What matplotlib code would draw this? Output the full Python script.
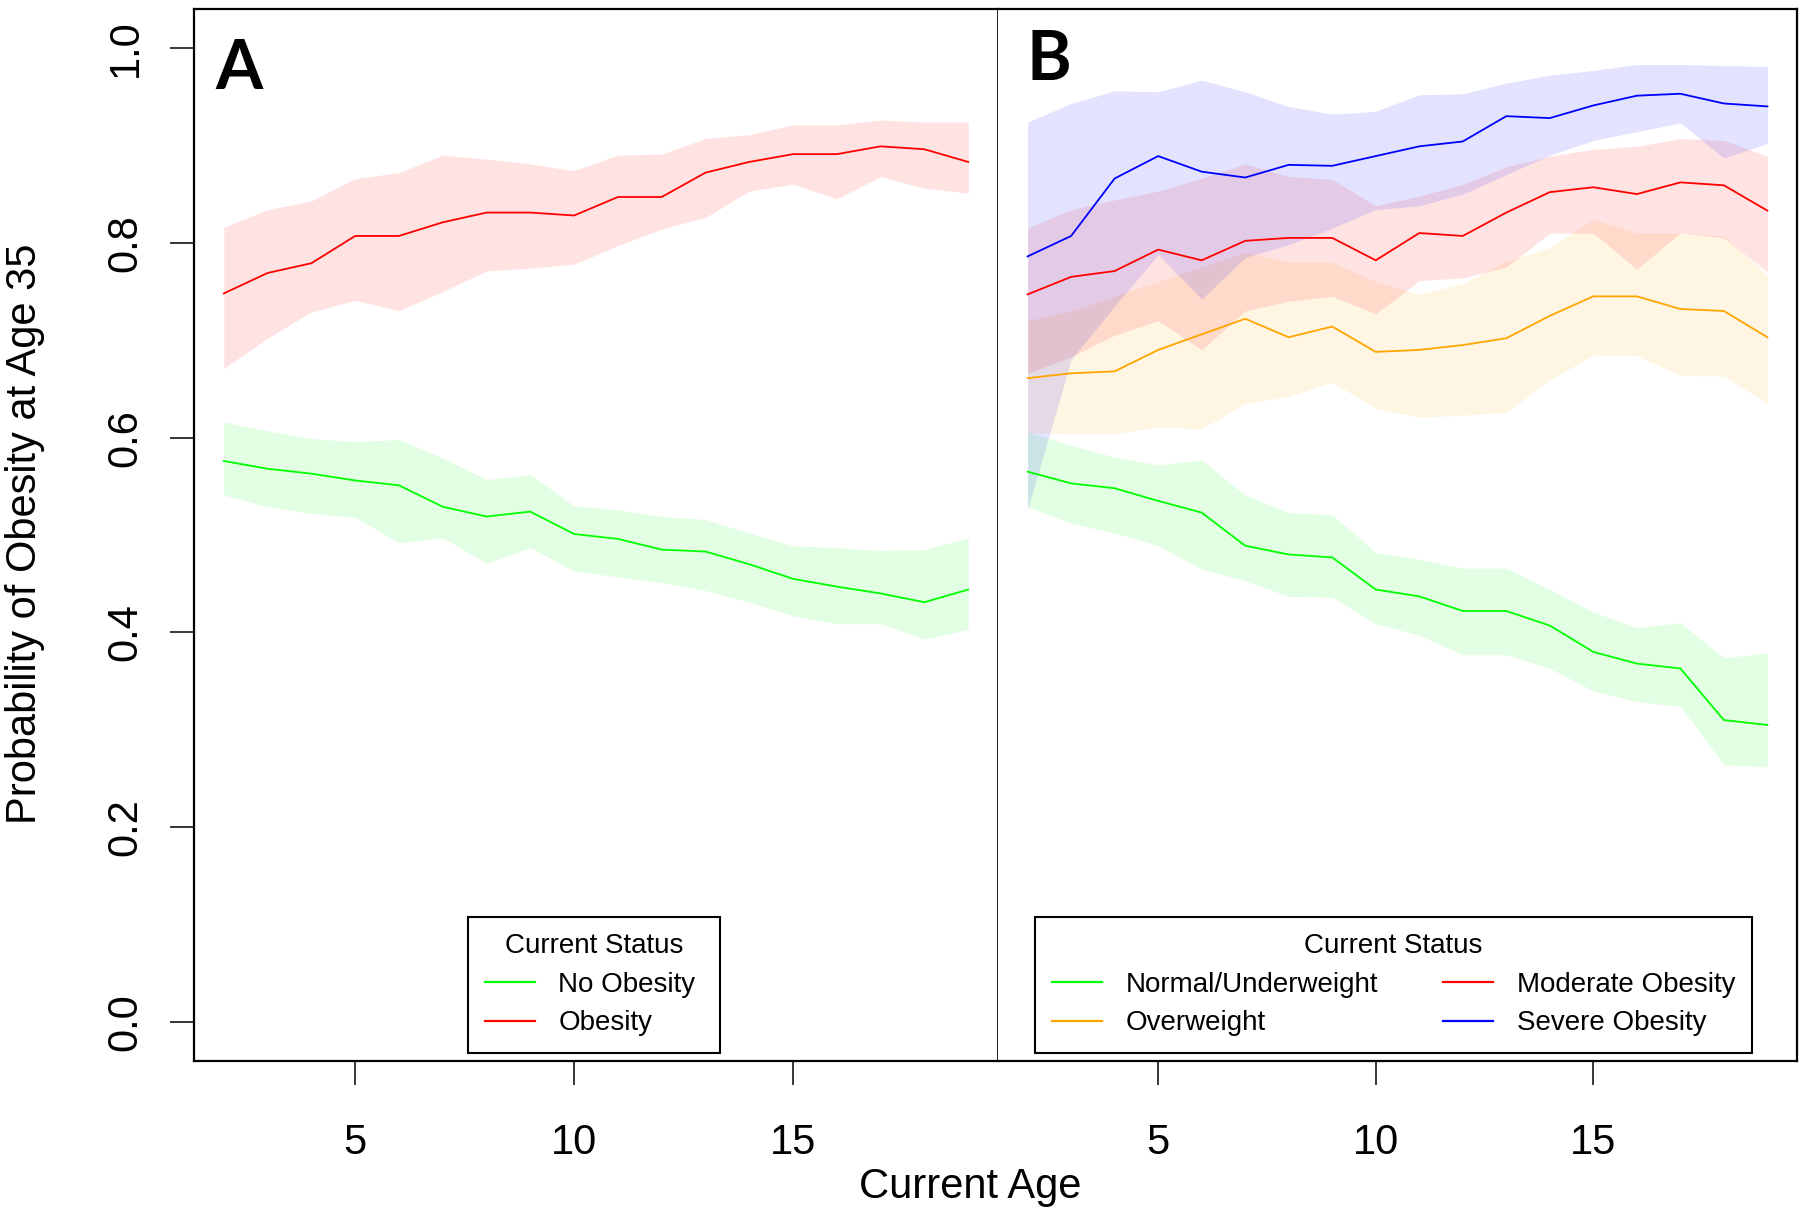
import matplotlib
matplotlib.use("Agg")
import matplotlib.pyplot as plt
import matplotlib.transforms as mtransforms
from matplotlib import font_manager
from matplotlib.lines import Line2D

# R-style output uses a narrow Arial look; use the narrow Liberation face if present
installed = {f.name for f in font_manager.fontManager.ttflist}
narrow = "Liberation Sans Narrow" in installed
base_font = "Liberation Sans Narrow" if narrow else "Liberation Sans"
plt.rcParams['font.family'] = [base_font, 'DejaVu Sans']
# text sizes (smaller when only the normal-width face is available)
tick_size = 34 if narrow else 30
label_size = 35 if narrow else 30
legend_size = 24 if narrow else 20

ages = list(range(2, 20))

# ---------- Panel A: two groups ----------
a_ob_mean = [0.748, 0.769, 0.779, 0.807, 0.807, 0.821, 0.831, 0.831, 0.828,
             0.847, 0.847, 0.872, 0.883, 0.891, 0.891, 0.899, 0.896, 0.883]
a_ob_hi = [0.816, 0.834, 0.843, 0.866, 0.872, 0.890, 0.886, 0.881, 0.874,
           0.890, 0.891, 0.907, 0.911, 0.921, 0.921, 0.926, 0.924, 0.924]
a_ob_lo = [0.671, 0.702, 0.729, 0.741, 0.730, 0.750, 0.771, 0.774, 0.778,
           0.797, 0.814, 0.826, 0.853, 0.860, 0.845, 0.868, 0.856, 0.851]

a_no_mean = [0.576, 0.568, 0.563, 0.556, 0.551, 0.529, 0.519, 0.524, 0.501,
             0.496, 0.485, 0.483, 0.470, 0.455, 0.447, 0.440, 0.431, 0.444]
a_no_hi = [0.616, 0.607, 0.599, 0.596, 0.598, 0.579, 0.557, 0.562, 0.530,
           0.526, 0.519, 0.516, 0.502, 0.489, 0.487, 0.484, 0.485, 0.497]
a_no_lo = [0.541, 0.529, 0.522, 0.518, 0.492, 0.497, 0.471, 0.487, 0.463,
           0.457, 0.451, 0.443, 0.431, 0.417, 0.409, 0.409, 0.393, 0.403]

# ---------- Panel B: four groups ----------
b_nw_mean = [0.565, 0.553, 0.548, 0.535, 0.523, 0.489, 0.480, 0.477, 0.444,
             0.437, 0.422, 0.422, 0.407, 0.380, 0.368, 0.363, 0.310, 0.305]
b_nw_hi = [0.606, 0.592, 0.580, 0.572, 0.577, 0.541, 0.523, 0.521, 0.482,
           0.475, 0.466, 0.466, 0.444, 0.421, 0.405, 0.410, 0.374, 0.379]
b_nw_lo = [0.529, 0.512, 0.502, 0.489, 0.465, 0.453, 0.437, 0.436, 0.409,
           0.397, 0.377, 0.377, 0.363, 0.340, 0.329, 0.324, 0.264, 0.262]

b_ow_mean = [0.661, 0.666, 0.668, 0.690, 0.706, 0.722, 0.703, 0.714, 0.688,
             0.690, 0.695, 0.702, 0.725, 0.745, 0.745, 0.732, 0.730, 0.703]
b_ow_hi = [0.720, 0.730, 0.745, 0.760, 0.775, 0.790, 0.780, 0.780, 0.760,
           0.747, 0.758, 0.781, 0.795, 0.824, 0.810, 0.810, 0.807, 0.767]
b_ow_lo = [0.605, 0.604, 0.604, 0.611, 0.609, 0.635, 0.642, 0.657, 0.630,
           0.621, 0.623, 0.626, 0.659, 0.685, 0.684, 0.664, 0.663, 0.635]

b_mod_mean = [0.747, 0.765, 0.771, 0.793, 0.782, 0.802, 0.805, 0.805, 0.782,
              0.810, 0.807, 0.831, 0.852, 0.857, 0.850, 0.862, 0.859, 0.833]
b_mod_hi = [0.815, 0.834, 0.844, 0.853, 0.866, 0.881, 0.868, 0.865, 0.838,
            0.848, 0.860, 0.878, 0.889, 0.896, 0.899, 0.907, 0.905, 0.889]
b_mod_lo = [0.666, 0.683, 0.705, 0.720, 0.690, 0.730, 0.740, 0.745, 0.727,
            0.761, 0.764, 0.775, 0.810, 0.810, 0.773, 0.810, 0.805, 0.770]

b_sev_mean = [0.786, 0.807, 0.866, 0.889, 0.873, 0.867, 0.880, 0.879, 0.889,
              0.899, 0.904, 0.930, 0.928, 0.941, 0.951, 0.953, 0.943, 0.940]
b_sev_hi = [0.924, 0.943, 0.956, 0.955, 0.967, 0.955, 0.940, 0.932, 0.935,
            0.952, 0.953, 0.964, 0.972, 0.977, 0.983, 0.983, 0.982, 0.981]
b_sev_lo = [0.526, 0.680, 0.735, 0.788, 0.742, 0.785, 0.798, 0.815, 0.834,
            0.838, 0.850, 0.870, 0.890, 0.905, 0.914, 0.923, 0.887, 0.902]

y_ticks = [0.0, 0.2, 0.4, 0.6, 0.8, 1.0]
y_tick_labels = ["0.0", "0.2", "0.4", "0.6", "0.8", "1.0"]
x_ticks = [5, 10, 15]
x_tick_labels = ["5", "10", "15"]

panel_a = [("No Obesity", "#00FF00", a_no_mean, a_no_lo, a_no_hi),
           ("Obesity", "#FF0000", a_ob_mean, a_ob_lo, a_ob_hi)]
panel_b = [("Normal/Underweight", "#00FF00", b_nw_mean, b_nw_lo, b_nw_hi),
           ("Overweight", "#FFA500", b_ow_mean, b_ow_lo, b_ow_hi),
           ("Moderate Obesity", "#FF0000", b_mod_mean, b_mod_lo, b_mod_hi),
           ("Severe Obesity", "#0000FF", b_sev_mean, b_sev_lo, b_sev_hi)]

W, H = 1800, 1217
fig = plt.figure(figsize=(W / 100, H / 100), dpi=100)
bottom = 1 - 1061 / H
height = 1052 / H
axA = fig.add_axes([194 / W, bottom, 804 / W, height])
axB = fig.add_axes([998 / W, bottom, 799 / W, height])


def draw_panel(ax, groups, letter, letter_x, letter_y, leg_box, ncol):
    for name, col, mean, lo, hi in groups:
        ax.fill_between(ages, lo, hi, color=col, alpha=0.11, lw=0)
    handles = []
    for name, col, mean, lo, hi in groups:
        ax.plot(ages, mean, color=col, lw=1.3)
        handles.append(Line2D([], [], color=col, lw=1.6))

    ax.set_xlim(1.32, 19.68)
    ax.set_ylim(-0.04, 1.04)
    ax.set_xticks(x_ticks)
    ax.tick_params(axis='x', direction='out', length=17, width=1.1,
                   labelbottom=False)
    # R puts the tick labels well below the tick marks; place them by baseline
    trans = mtransforms.blended_transform_factory(ax.transData, ax.transAxes)
    for xv, txt in zip(x_ticks, x_tick_labels):
        ax.text(xv, -93 / 1052, txt, transform=trans, ha='center',
                va='baseline', fontsize=tick_size)
    for s in ax.spines.values():
        s.set_linewidth(1.6)

    ax.text(letter_x, letter_y, letter, transform=ax.transAxes,
            fontsize=49, fontweight='bold', family=['Lato', 'DejaVu Sans'],
            ha='left', va='baseline')

    leg = ax.legend(handles, [g[0] for g in groups], title="Current Status",
                    loc='lower left', bbox_to_anchor=leg_box, mode='expand',
                    ncol=ncol, fontsize=legend_size, title_fontsize=legend_size,
                    frameon=True, fancybox=False, framealpha=1,
                    edgecolor='black', borderpad=0.6, labelspacing=0.45,
                    handlelength=1.8, handletextpad=0.85, borderaxespad=0,
                    columnspacing=1.0)
    leg.get_frame().set_linewidth(1.5)


draw_panel(axA, panel_a, "A", 0.027, 0.924, (0.341, 0.0076, 0.313, 0.13), 1)
draw_panel(axB, panel_b, "B", 0.036, 0.9325, (0.0463, 0.0076, 0.897, 0.13), 2)

axA.set_yticks(y_ticks)
axA.set_yticklabels(y_tick_labels)
axA.tick_params(axis='y', direction='out', length=17, width=1.1,
                labelsize=tick_size, pad=18, labelrotation=90)
for lab in axA.get_yticklabels():
    lab.set_verticalalignment('center')

axB.tick_params(axis='y', left=False, labelleft=False)
axB.spines['left'].set_visible(False)
axA.spines['right'].set_linewidth(1.2)

fig.text(970 / W, 1 - 1198 / H, "Current Age", ha='center', va='baseline',
         fontsize=label_size)
fig.text(25 / W, 1 - 534 / H, "Probability of Obesity at Age 35", ha='center',
         va='center', rotation=90, fontsize=label_size)

fig.savefig("out.png", dpi=100, facecolor='white')
